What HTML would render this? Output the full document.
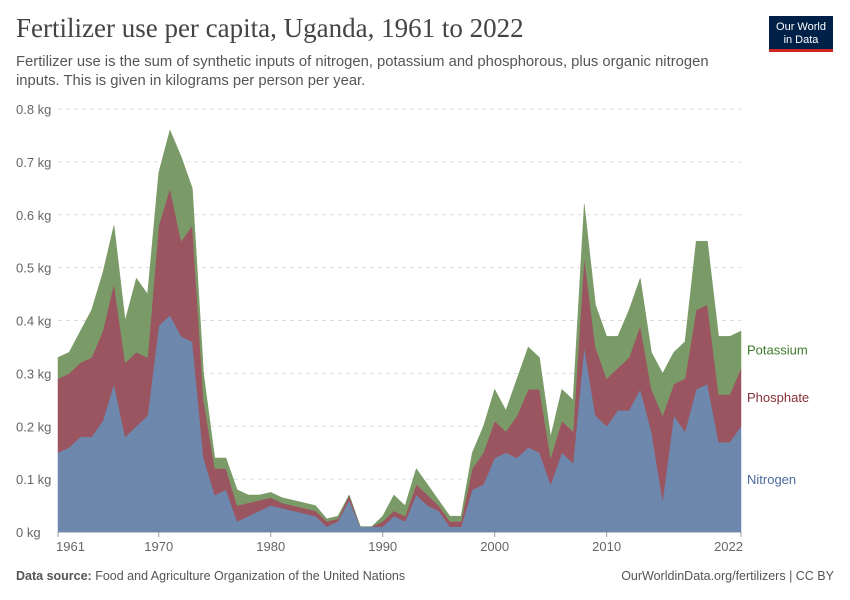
<!DOCTYPE html>
<html><head><meta charset="utf-8"><style>
body{margin:0;background:#fff;font-family:"Liberation Sans",sans-serif;}
#wrap{position:relative;width:850px;height:600px;overflow:hidden}
h1{position:absolute;left:16px;top:13px;margin:0;font-family:"Liberation Serif",serif;font-weight:normal;font-size:27px;color:#444}
.sub{position:absolute;left:16px;top:53px;width:730px;font-size:14.8px;line-height:19px;color:#555}
.logo{position:absolute;left:769px;top:16px;width:64px;height:36px;background:#002147;color:#fff;font-size:11px;line-height:13px;text-align:center;padding-top:5px;box-sizing:border-box;border-bottom:3px solid #ce261e}
.foot{position:absolute;top:569px;font-size:12.5px;color:#555}
</style></head><body><div id="wrap">
<h1>Fertilizer use per capita, Uganda, 1961 to 2022</h1>
<div class="sub">Fertilizer use is the sum of synthetic inputs of nitrogen, potassium and phosphorous, plus organic nitrogen inputs. This is given in kilograms per person per year.</div>
<div class="logo">Our World<br>in Data</div>
<svg id="svg" width="850" height="600" style="position:absolute;left:0;top:0"></svg>
<div class="foot" style="left:16px"><b>Data source:</b> Food and Agriculture Organization of the United Nations</div>
<div class="foot" style="right:16px">OurWorldinData.org/fertilizers | CC BY</div>
</div>
<script>
const startYear=1961;
const nitrogen=[.15,.16,.18,.18,.21,.28,.18,.20,.22,.39,.41,.37,.36,.14,.07,.08,.02,.03,.04,.05,.045,.04,.035,.03,.01,.02,.06,.01,.01,.01,.03,.02,.07,.05,.04,.01,.01,.08,.09,.14,.15,.14,.16,.15,.09,.15,.13,.35,.22,.20,.23,.23,.27,.19,.06,.22,.19,.27,.28,.17,.17,.20];
const phosphate=[.14,.14,.14,.15,.17,.19,.14,.14,.11,.19,.24,.18,.22,.11,.05,.04,.03,.025,.02,.015,.01,.01,.01,.01,.01,.005,.01,0,0,.01,.01,.01,.02,.02,.01,.01,.01,.04,.06,.07,.04,.08,.11,.12,.05,.06,.06,.17,.13,.09,.08,.10,.12,.08,.16,.06,.10,.15,.15,.09,.09,.11];
const potassium=[.04,.04,.06,.09,.11,.11,.08,.14,.12,.10,.11,.16,.07,.05,.02,.02,.03,.015,.01,.01,.01,.01,.01,.01,.005,.005,0,0,0,.01,.03,.02,.03,.02,.01,.01,.01,.03,.05,.06,.04,.07,.08,.06,.04,.06,.06,.10,.08,.08,.06,.09,.09,.07,.08,.06,.07,.13,.12,.11,.11,.07];
const yTicks=[0,0.1,0.2,0.3,0.4,0.5,0.6,0.7,0.8];
const xTicks=[1961,1970,1980,1990,2000,2010,2022];
const svg=document.getElementById('svg');const NS='http://www.w3.org/2000/svg';
const X0=58,X1=741,Y0=532,Y1=109;
const endYear=startYear+nitrogen.length-1;
const x=y=>X0+(y-startYear)/(endYear-startYear)*(X1-X0);
const y=v=>Y0-v/0.8*(Y0-Y1);
function mk(t,a){const e=document.createElementNS(NS,t);for(const k in a)e.setAttribute(k,a[k]);svg.appendChild(e);return e;}
yTicks.forEach(v=>{
 const l=mk('line',{x1:X0,x2:X1,y1:y(v),y2:y(v),stroke:'#ddd','stroke-dasharray':v?'4,4':'',});
 
 
 const t=mk('text',{x:16,y:y(v)+5,'font-size':13,fill:'#666'});t.textContent=v+' kg';
 
 
});
mk('line',{x1:X0,x2:X1,y1:Y0,y2:Y0,stroke:'#999'});
xTicks.forEach(yr=>{
 mk('line',{x1:x(yr),x2:x(yr),y1:Y0,y2:Y0+5,stroke:'#999'});
 const t=mk('text',{x:x(yr),y:Y0+19,'font-size':13,fill:'#666','text-anchor':yr==1961?'start':(yr==2022?'end':'middle')});
 t.textContent=yr;
 if(yr==1961)t.setAttribute('x',x(yr)-2); if(yr==2022)t.setAttribute('x',x(yr)+2);
 
 
});
const series=[['nitrogen',nitrogen,'#6d87ad','#4c6a9c','Nitrogen'],['phosphate',phosphate,'#9b5560','#883039','Phosphate'],['potassium',potassium,'#7a9a67','#3e7a2a','Potassium']];
let base=nitrogen.map(()=>0);
series.forEach(([name,vals,col,tc,label])=>{
 const top=base.map((b,i)=>b+vals[i]);
 let d='M'+top.map((v,i)=>x(startYear+i)+','+y(v)).join('L');
 for(let i=base.length-1;i>=0;i--)d+='L'+x(startYear+i)+','+y(base[i]);
 const p=mk('path',{d:d+'Z',fill:col,stroke:col,'stroke-width':0.5});
 
 
 const n=top.length-1, mid=(base[n]+top[n])/2;
 const t=mk('text',{x:747,y:y(mid)+5,'font-size':13,fill:tc});t.textContent=label;
 
 
 base=top;
});
</script></body></html>
